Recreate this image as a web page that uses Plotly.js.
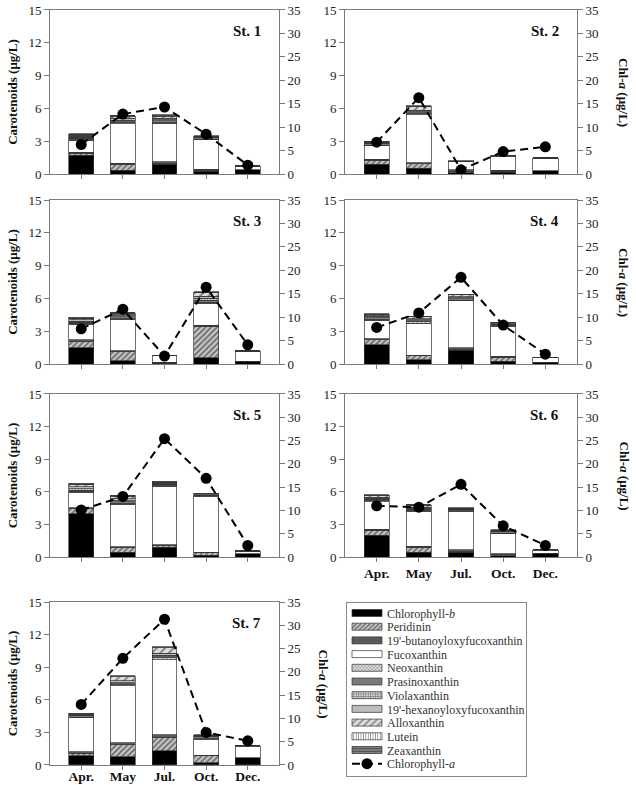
<!DOCTYPE html>
<html>
<head>
<meta charset="utf-8">
<script src="https://cdn.plot.ly/plotly-3.0.1.min.js"></script>
<style>html,body{margin:0;padding:0;background:#fff;}#chart{width:636px;height:785px;}</style>
</head>
<body>
<div id="chart"></div>
<script>
// ---------- data (rows = St. 1 ... St. 7; columns = Apr., May, Jul., Oct., Dec.) ----------
const months = ['Apr.', 'May', 'Jul.', 'Oct.', 'Dec.'];
const stations = ['St. 1', 'St. 2', 'St. 3', 'St. 4', 'St. 5', 'St. 6', 'St. 7'];

const chlorophyllB = [
  [1.7, 0.35, 0.9, 0.25, 0.4], [0.9, 0.55, 0.1, 0.15, 0.3], [1.5, 0.3, 0.05, 0.55, 0.25],
  [1.75, 0.4, 1.25, 0.25, 0.15], [4.0, 0.45, 0.9, 0.15, 0.3], [2.0, 0.45, 0.45, 0.1, 0.35],
  [0.85, 0.75, 1.3, 0.2, 0.67]];
const peridinin = [
  [0.2, 0.5, 0.05, 0.1, 0], [0.35, 0.4, 0.15, 0.1, 0], [0.6, 0.85, 0.05, 2.9, 0],
  [0.45, 0.35, 0.1, 0.35, 0], [0.5, 0.45, 0.15, 0.25, 0], [0.45, 0.45, 0.1, 0.15, 0],
  [0.25, 1.1, 1.25, 0.65, 0]];
const butanoyloxy = [
  [0.1, 0.15, 0.15, 0.1, 0], [0.1, 0.1, 0.15, 0.1, 0], [0.1, 0.05, 0.05, 0.1, 0],
  [0.1, 0.05, 0.15, 0.1, 0], [0.05, 0.05, 0.1, 0.05, 0], [0.1, 0.1, 0.1, 0.05, 0],
  [0.1, 0.2, 0.25, 0.05, 0]];
const fucoxanthin = [
  [1.1, 3.6, 3.55, 2.75, 0.3], [1.25, 4.35, 0.7, 1.25, 1.15], [1.43, 2.9, 0.6, 2.0, 0.9],
  [1.7, 2.95, 4.3, 2.75, 0.45], [1.4, 3.9, 5.35, 5.1, 0.25], [2.55, 3.2, 3.55, 1.9, 0.25],
  [3.15, 5.23, 6.9, 1.45, 1.0]];
const neoxanthin = [
  [0.05, 0.1, 0.05, 0, 0], [0.05, 0.1, 0, 0, 0], [0.1, 0.05, 0, 0.1, 0],
  [0.1, 0.1, 0.05, 0.05, 0], [0.1, 0.1, 0.05, 0, 0], [0.1, 0.1, 0.05, 0, 0],
  [0.05, 0.1, 0.15, 0.05, 0]];
const prasinoxanthin = [
  [0.1, 0.1, 0.15, 0.15, 0.05], [0.15, 0.1, 0.05, 0.1, 0.05], [0.1, 0.15, 0.05, 0.2, 0.05],
  [0.15, 0.1, 0.1, 0.1, 0.03], [0.1, 0.15, 0.1, 0.15, 0.05], [0.1, 0.1, 0.1, 0.15, 0.05],
  [0.15, 0.1, 0.1, 0.2, 0.08]];
const violaxanthin = [
  [0.1, 0.1, 0.1, 0.05, 0], [0.05, 0.1, 0, 0, 0], [0.1, 0.1, 0, 0.15, 0],
  [0.1, 0.1, 0.1, 0.05, 0], [0.15, 0.1, 0.05, 0.05, 0], [0.1, 0.1, 0.05, 0.05, 0],
  [0.05, 0.1, 0.15, 0.05, 0]];
const hexanoyloxy = [
  [0.1, 0.2, 0.15, 0.05, 0], [0.05, 0.15, 0, 0, 0], [0.1, 0.1, 0, 0.2, 0],
  [0.05, 0.1, 0.1, 0.05, 0], [0.15, 0.15, 0.1, 0.05, 0], [0.1, 0.1, 0.05, 0.05, 0],
  [0.05, 0.15, 0.2, 0.05, 0]];
const alloxanthin = [
  [0.1, 0.2, 0.2, 0, 0], [0.05, 0.3, 0, 0, 0], [0.1, 0.15, 0, 0.3, 0],
  [0.1, 0.15, 0.2, 0.1, 0], [0.2, 0.25, 0.1, 0, 0], [0.15, 0.15, 0.05, 0, 0],
  [0.05, 0.4, 0.5, 0.05, 0]];
const lutein = [
  [0.05, 0.05, 0.05, 0, 0], [0, 0.05, 0, 0, 0], [0.05, 0.05, 0, 0.05, 0],
  [0.05, 0.05, 0.05, 0, 0], [0.05, 0.05, 0, 0, 0], [0.05, 0.05, 0, 0, 0],
  [0, 0, 0, 0, 0]];
const zeaxanthin = [
  [0.1, 0, 0.05, 0.05, 0], [0.05, 0.05, 0.05, 0, 0], [0.1, 0, 0, 0.05, 0],
  [0.05, 0, 0, 0, 0], [0.1, 0.05, 0.05, 0.05, 0], [0.05, 0, 0.05, 0.05, 0],
  [0.05, 0.07, 0.07, 0.05, 0]];
const chlorophyllA = [
  [6.3, 12.8, 14.3, 8.5, 1.9], [6.8, 16.3, 0.9, 4.8, 5.8], [7.5, 11.7, 1.7, 16.4, 4.1],
  [7.8, 10.9, 18.5, 8.3, 2.1], [10.1, 13.0, 25.4, 16.9, 2.5], [11.0, 10.7, 15.6, 6.7, 2.5],
  [13.0, 22.9, 31.3, 7.0, 5.2]];

// ---------- styles ----------
const FONT = '"Liberation Serif", "Times New Roman", serif';
const pigments = [
  {name: 'Chlorophyll-<i>b</i>', data: chlorophyllB, color: '#000000'},
  {name: 'Peridinin', data: peridinin, color: '#bdbdbd', pattern: {shape: '/', fgcolor: '#6a6a6a', bgcolor: '#c8c8c8', size: 4, solidity: 0.45}},
  {name: "19'-butanoyloxyfucoxanthin", data: butanoyloxy, color: '#5a5a5a'},
  {name: 'Fucoxanthin', data: fucoxanthin, color: '#ffffff'},
  {name: 'Neoxanthin', data: neoxanthin, color: '#d0d0d0', pattern: {shape: 'x', fgcolor: '#8a8a8a', bgcolor: '#e0e0e0', size: 3, solidity: 0.4}},
  {name: 'Prasinoxanthin', data: prasinoxanthin, color: '#7a7a7a'},
  {name: 'Violaxanthin', data: violaxanthin, color: '#b0b0b0', pattern: {shape: '+', fgcolor: '#6e6e6e', bgcolor: '#d6d6d6', size: 3, solidity: 0.4}},
  {name: "19'-hexanoyloxyfucoxanthin", data: hexanoyloxy, color: '#bcbcbc'},
  {name: 'Alloxanthin', data: alloxanthin, color: '#cfcfcf', pattern: {shape: '/', fgcolor: '#7c7c7c', bgcolor: '#dedede', size: 6, solidity: 0.3}},
  {name: 'Lutein', data: lutein, color: '#ffffff', pattern: {shape: '|', fgcolor: '#8c8c8c', bgcolor: '#ffffff', size: 3, solidity: 0.35}},
  {name: 'Zeaxanthin', data: zeaxanthin, color: '#777777', pattern: {shape: '-', fgcolor: '#3a3a3a', bgcolor: '#8a8a8a', size: 3, solidity: 0.4}}
];

// panel geometry (paper fractions)
const colX = [[0.0786, 0.4387], [0.5425, 0.9072]];
const rowY = [[0.7783, 0.9873], [0.5363, 0.7452], [0.2904, 0.4981], [0.0255, 0.2331]];

const traces = [];
const layout = {
  width: 636, height: 785,
  margin: {l: 0, r: 0, t: 0, b: 0},
  paper_bgcolor: '#ffffff', plot_bgcolor: 'rgba(0,0,0,0)',
  barmode: 'stack', bargap: 0.4,
  font: {family: FONT, size: 13, color: '#222'},
  showlegend: true,
  legend: {
    // placed inside the paper first (so it does not push margins), then tightened below
    x: 0.544, y: 0, xanchor: 'left', yanchor: 'bottom',
    bordercolor: '#8a8a8a', borderwidth: 1, bgcolor: '#ffffff',
    font: {family: FONT, size: 12, color: '#333'},
    traceorder: 'normal', tracegroupgap: 0, itemwidth: 30
  },
  annotations: []
};

stations.forEach((st, s) => {
  const n = s + 1;
  const col = s % 2, row = Math.floor(s / 2);
  const xid = n === 1 ? 'x' : 'x' + n;
  const yL = 2 * n - 1, yR = 2 * n;
  const yLid = yL === 1 ? 'y' : 'y' + yL;
  const yRid = 'y' + yR;
  const showXLabels = (s === 5 || s === 6);

  pigments.forEach(p => {
    const m = {color: p.color, line: {color: '#333333', width: 0.7}};
    if (p.pattern) m.pattern = p.pattern;
    traces.push({
      type: 'bar', x: months, y: p.data[s], name: p.name,
      xaxis: xid, yaxis: yLid, marker: m,
      legendgroup: p.name, showlegend: s === 0, hoverinfo: 'y'
    });
  });
  traces.push({
    type: 'scatter', mode: 'lines+markers', x: months, y: chlorophyllA[s],
    name: 'Chlorophyll-<i>a</i>', xaxis: xid, yaxis: yRid,
    line: {color: '#000', width: 2, dash: '8px,5px'},
    marker: {color: '#000', size: 11},
    legendgroup: 'chla', showlegend: s === 0
  });

  layout[n === 1 ? 'xaxis' : 'xaxis' + n] = {
    domain: colX[col], anchor: yLid, type: 'category',
    range: [-0.75, 4.75], showline: true, linecolor: '#7a7a7a', linewidth: 1, mirror: true,
    ticks: 'outside', ticklen: 4, tickcolor: '#7a7a7a', showgrid: false, zeroline: false,
    showticklabels: showXLabels,
    ticklabelstandoff: s === 6 ? -5 : 0,
    tickfont: {family: FONT, size: 13.5, color: '#111', weight: 'bold'},
    automargin: false
  };
  layout[yL === 1 ? 'yaxis' : 'yaxis' + yL] = {
    domain: rowY[row], anchor: xid, range: [0, 15], dtick: 3, tick0: 0,
    showline: true, linecolor: '#7a7a7a', linewidth: 1,
    ticks: 'outside', ticklen: 5, tickcolor: '#7a7a7a', showgrid: false, zeroline: false,
    tickfont: {family: FONT, size: 13, color: '#222'},
    automargin: false,
    title: col === 0 ? {text: 'Carotenoids (μg/L)', font: {family: FONT, size: 13, color: '#111', weight: 'bold'}, standoff: 7} : {text: ''}
  };
  layout['yaxis' + yR] = {
    overlaying: yLid, side: 'right', anchor: xid, range: [0, 35], dtick: 5, tick0: 0,
    showline: true, linecolor: '#7a7a7a', linewidth: 1,
    ticks: 'outside', ticklen: 5, tickcolor: '#7a7a7a', showgrid: false, zeroline: false,
    tickfont: {family: FONT, size: 13, color: '#222'},
    automargin: false
  };

  // station label
  layout.annotations.push({
    text: '<b>' + st + '</b>', xref: xid + ' domain', yref: yLid + ' domain',
    x: 0.93, y: 0.87, xanchor: 'right', yanchor: 'middle', showarrow: false,
    font: {family: FONT, size: 15, color: '#111'}
  });
  // right-axis title (reads top to bottom)
  if (col === 1 || s === 6) {
    layout.annotations.push({
      text: '<b>Chl-<i>a</i> (μg/L)</b>', xref: 'paper', yref: 'paper',
      x: col === 1 ? 624 / 636 : 324 / 636, y: (rowY[row][0] + rowY[row][1]) / 2,
      xanchor: 'center', yanchor: 'middle', textangle: 90, showarrow: false,
      font: {family: FONT, size: 13, color: '#111'}
    });
  }
});

Plotly.newPlot('chart', traces, layout, {displayModeBar: false, staticPlot: true}).then(gd => {
  // tighten the legend to the compact box of the original figure
  const leg = gd.querySelector('g.legend');
  if (!leg) return;
  const LEFT = 346, TOP = 602, STEP = 13.7, FIRST = 11, HEIGHT = 174, WIDTH = 180;
  leg.setAttribute('transform', 'translate(' + LEFT + ',' + TOP + ')');
  const bg = leg.querySelector('rect.bg');
  if (bg) { bg.setAttribute('height', HEIGHT); bg.setAttribute('width', WIDTH); }
  leg.querySelectorAll('g.traces').forEach((g, i) => {
    const m = /translate\(\s*([-\d.e]+)[\s,]+([-\d.e]+)\s*\)/.exec(g.getAttribute('transform') || '');
    const x = m ? m[1] : 1;
    g.setAttribute('transform', 'translate(' + x + ',' + (FIRST + i * STEP) + ')');
    // wide, flat swatches like the original key (bar items only)
    g.querySelectorAll('.legendpoints path').forEach(p => {
      if (!p.classList.contains('scatterpts')) p.setAttribute('d', 'M15,3.5H-15V-3.5H15Z');
    });
  });
});
</script>
</body>
</html>
